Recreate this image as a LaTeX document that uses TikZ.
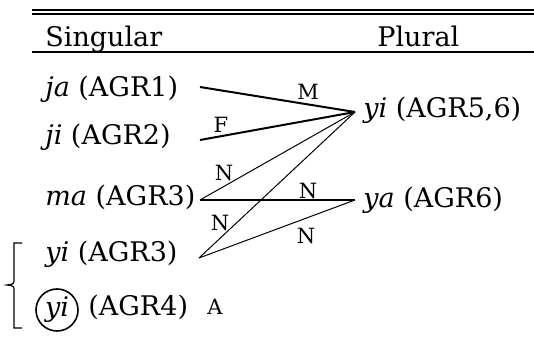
\documentclass[tikz,border=0pt]{standalone}
\usepackage{fontspec}
\setmainfont{DejaVu Serif}
\usetikzlibrary{positioning}

\begin{document}
\begin{tikzpicture}[
    x=0.5pt, y=-0.5pt,
    form/.style={anchor=base west, inner sep=0pt, font=\fontsize{13.5}{16}\selectfont},
    gender/.style={inner sep=0pt, font=\fontsize{10.5}{12}\selectfont},
    thin link/.style={line width=0.5pt},
    thick link/.style={line width=1pt}
]
\useasboundingbox (0,0) rectangle (534,341);

% =========================
% TABLE RULES AND HEADER
% =========================
\draw[line width=1pt] (32,10) -- (534,10);
\draw[line width=0.6pt] (32,14) -- (534,14);
\draw[line width=0.8pt] (32,52) -- (534,52);
\node[form] (sg) at (45,47) {Singular};
\node[form] (pl) at (377,47) {Plural};

% =========================
% SINGULAR FORMS
% =========================
\node[form] (ja) at (45,97) {\textit{ja} (AGR1)};
\node[form] (ji) at (45,145) {\textit{ji} (AGR2)};
\node[form] (ma) at (45,206) {\textit{ma} (AGR3)};
\node[form] (yiA) at (45,262) {\textit{yi} (AGR3)};
\node[draw, circle, line width=0.8pt, minimum size=21pt, inner sep=0pt,
      font=\fontsize{13.5}{16}\selectfont] (yiB) at (57,310) {\textit{yi}};
\node[form] (agrB) at (88,315) {(AGR4)};

% brace round the two yi forms
\draw[line width=0.6pt] (22,243) -- (14,243) -- (14,279)
    .. controls (14,284) .. (7,285)
    .. controls (14,286) .. (14,291) -- (14,328) -- (22,328);

% =========================
% PLURAL FORMS
% =========================
\node[form] (yiP) at (363,118) {\textit{yi} (AGR5,6)};
\node[form] (yaP) at (363,208) {\textit{ya} (AGR6)};

% line ends
\coordinate (ja-e) at (200,87);
\coordinate (ji-e) at (200,140);
\coordinate (ma-e) at (200,200);
\coordinate (yiA-e) at (199,258);
\coordinate (yiP-e) at (355,112);
\coordinate (yaP-e) at (355,200);

% =========================
% LINKS
% =========================
\draw[thick link] (ja-e) -- (yiP-e);
\draw[thick link] (ji-e) -- (yiP-e);
\draw[thin link] (ma-e) -- (yiP-e);
\draw[thick link] (ma-e) -- (yaP-e);
\draw[thin link] (yiA-e) -- (yiP-e);
\draw[thin link] (yiA-e) -- (yaP-e);

% gender labels
\node[gender] (m) at (308,92) {M};
\node[gender] (f) at (221,125) {F};
\node[gender] (n1) at (224,173) {N};
\node[gender] (n2) at (308,191) {N};
\node[gender] (n3) at (220,223) {N};
\node[gender] (n4) at (306,236) {N};
\node[gender] (a) at (215,307) {A};
\end{tikzpicture}
\end{document}
